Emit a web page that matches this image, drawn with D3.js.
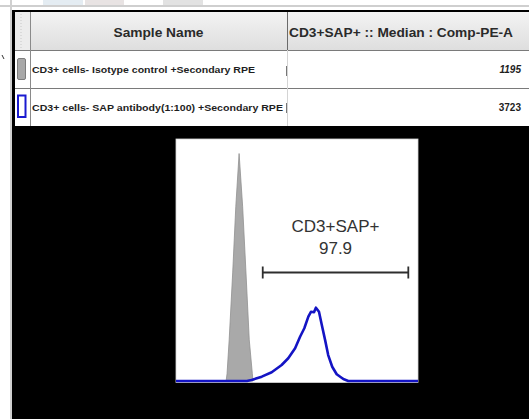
<!DOCTYPE html>
<html><head><meta charset="utf-8">
<script src="https://cdn.jsdelivr.net/npm/d3@7"></script>
<style>body{margin:0;background:#fff;overflow:hidden}svg{display:block}</style>
</head><body>
<script>
// ---- data ----
const columns = ["Sample Name", "CD3+SAP+ :: Median : Comp-PE-A"];
const samples = ["CD3+ cells- Isotype control +Secondary RPE", "CD3+ cells- SAP antibody(1:100) +Secondary RPE"];
const medians = [1195, 3723];
const gateName = "CD3+SAP+";
const gatePercent = 97.9;
const gateRange = [367, 983];           // channel units
const isotypeHist = [[212,0],[216,3],[225,17],[240,45],[253,72],[267,94],[282,72],[296,45],[310,17],[323,3],[326,0]];
const sapHist = [[0,0],[300,0],[320,0.4],[363,1.8],[405,3.6],[447,6.6],[475,9.4],[504,13.5],[525,18.3],[543,21.8],
  [560,26.6],[571,28.6],[584,28.4],[592,30.3],[605,28.6],[617,23.1],[631,16.9],[644,10.7],[661,5.9],[680,2.8],
  [708,0.8],[729,0],[1024,0]];

const W = 529, H = 419;
const svg = d3.select("body").append("svg").attr("width", W).attr("height", H);

// ---- window chrome ----
svg.append("rect").attr("x",43).attr("y",0).attr("width",40).attr("height",5).attr("fill","#e4ecf2");
svg.append("rect").attr("x",85).attr("y",0).attr("width",39).attr("height",5).attr("fill","#e8e3e3");
svg.append("rect").attr("x",163).attr("y",0).attr("width",40).attr("height",5).attr("fill","#e2e2e2");
svg.append("rect").attr("x",0).attr("y",5).attr("width",W).attr("height",2).attr("fill","#cfcfcf");
svg.append("rect").attr("x",10).attr("y",0).attr("width",2).attr("height",H).attr("fill","#d0d0d0");
svg.append("line").attr("x1",2).attr("y1",55).attr("x2",4).attr("y2",59).attr("stroke","#333").attr("stroke-width",1);

// black panel
svg.append("rect").attr("x",12).attr("y",10).attr("width",W-12).attr("height",H-10).attr("fill","#000");

// ---- table ----
const colX = [15, 30, 287, W];
const rowScale = d3.scaleBand().domain(["header", ...samples]).range([12, 126]);
const t = svg.append("g");
const defs = svg.append("defs");
const grad = defs.append("linearGradient").attr("id","hdr").attr("x1",0).attr("y1",0).attr("x2",0).attr("y2",1);
grad.append("stop").attr("offset","0%").attr("stop-color","#f3f3f3");
grad.append("stop").attr("offset","100%").attr("stop-color","#dedede");

t.append("rect").attr("x",colX[0]).attr("y",rowScale("header")).attr("width",W-colX[0]).attr("height",rowScale.bandwidth()).attr("fill","url(#hdr)");
t.append("rect").attr("x",colX[0]).attr("y",rowScale("header")).attr("width",colX[1]-colX[0]).attr("height",rowScale.bandwidth()).attr("fill","#ececec");
t.append("line").attr("x1",21).attr("x2",21).attr("y1",rowScale("header")+2).attr("y2",rowScale("header")+rowScale.bandwidth()-2)
  .attr("stroke","#c8c8c8").attr("stroke-dasharray","1,2");
samples.forEach(s => {
  t.append("rect").attr("x",colX[0]).attr("y",rowScale(s)).attr("width",W-colX[0]).attr("height",rowScale.bandwidth()).attr("fill","#fff");
});
// grid lines
[rowScale(samples[0]), rowScale(samples[1])].forEach(y => {
  t.append("line").attr("x1",colX[0]).attr("x2",W).attr("y1",y+0.5).attr("y2",y+0.5).attr("stroke","#7a7a7a");
});
t.append("line").attr("x1",colX[1]+0.5).attr("x2",colX[1]+0.5).attr("y1",12).attr("y2",126).attr("stroke","#8a8a8a");
t.append("line").attr("x1",colX[2]+0.5).attr("x2",colX[2]+0.5).attr("y1",12).attr("y2",50).attr("stroke","#6a6a6a");
t.append("line").attr("x1",colX[2]+0.5).attr("x2",colX[2]+0.5).attr("y1",50).attr("y2",126).attr("stroke","#d4d4d4");
t.append("line").attr("x1",colX[2]-0.5).attr("x2",colX[2]-0.5).attr("y1",66).attr("y2",76).attr("stroke","#777");
t.append("line").attr("x1",colX[2]-0.5).attr("x2",colX[2]-0.5).attr("y1",103).attr("y2",113).attr("stroke","#777");

// header text
const hy = rowScale("header") + 24.5;
t.append("text").attr("x",(colX[1]+colX[2])/2).attr("y",hy).attr("text-anchor","middle")
  .attr("font-family","Liberation Sans, Arial, sans-serif").attr("font-weight","bold").attr("font-size",13)
  .attr("fill","#2a2a2a").attr("textLength",90).attr("lengthAdjust","spacingAndGlyphs").text(columns[0]);
t.append("text").attr("x",colX[2]+2).attr("y",hy)
  .attr("font-family","Liberation Sans, Arial, sans-serif").attr("font-weight","bold").attr("font-size",13)
  .attr("fill","#2a2a2a").attr("textLength",224).attr("lengthAdjust","spacingAndGlyphs").text(columns[1]);

// rows
const nameWidths = [223, 251];
samples.forEach((s, i) => {
  const y0 = rowScale(s), bw = rowScale.bandwidth();
  const ty = y0 + bw/2 + 3.5;
  if (i === 0) {
    t.append("rect").attr("x",17.5).attr("y",y0+8.5).attr("width",8).attr("height",21).attr("rx",1.5)
      .attr("fill","#a8a8a8").attr("stroke","#7d7d7d");
  } else {
    t.append("rect").attr("x",18).attr("y",y0+7.5).attr("width",7.5).attr("height",21.5)
      .attr("fill","#fff").attr("stroke","#1a1ad0").attr("stroke-width",2);
  }
  t.append("text").attr("x",32).attr("y",ty)
    .attr("font-family","Liberation Sans, Arial, sans-serif").attr("font-weight","bold").attr("font-size",9.5)
    .attr("fill","#1e1e1e").attr("textLength",nameWidths[i]).attr("lengthAdjust","spacingAndGlyphs").text(s);
  t.append("text").attr("x",521).attr("y",ty).attr("text-anchor","end")
    .attr("font-family","Liberation Sans, Arial, sans-serif").attr("font-weight","bold").attr("font-size",10)
    .attr("font-style", i === 0 ? "italic" : "normal")
    .attr("fill","#1e1e1e").text(medians[i]);
});

// ---- histogram plot ----
const x = d3.scaleLinear().domain([0, 1024]).range([176, 418]);
const y = d3.scaleLinear().domain([0, 100]).range([381, 139]);
const p = svg.append("g");
p.append("rect").attr("x",x(0)).attr("y",y(100)).attr("width",x(1024)-x(0)).attr("height",y(0)-y(100)+1.5)
  .attr("fill","#fff").attr("stroke","#d8d8d8").attr("stroke-width",0.8);

const area = d3.area().x(d => x(d[0])).y0(y(0)).y1(d => y(d[1])).curve(d3.curveLinear);
p.append("path").datum(isotypeHist).attr("d", area).attr("fill","#a9a9a9").attr("stroke","#909090").attr("stroke-width",0.8);

const line = d3.line().x(d => x(d[0])).y(d => y(d[1])).curve(d3.curveLinear);
p.append("path").datum(sapHist).attr("d", line).attr("fill","none").attr("stroke","#1414c4")
  .attr("stroke-width",2.6).attr("stroke-linejoin","round");

// gate
const gy = 272.5;
const g = p.append("g").attr("stroke","#2e2e2e").attr("stroke-width",1.8);
g.append("line").attr("x1",x(gateRange[0])).attr("x2",x(gateRange[1])).attr("y1",gy).attr("y2",gy);
gateRange.forEach(v => g.append("line").attr("x1",x(v)).attr("x2",x(v)).attr("y1",gy-6).attr("y2",gy+6));
const gx = (x(gateRange[0]) + x(gateRange[1])) / 2;
p.append("text").attr("x",gx).attr("y",231.5).attr("text-anchor","middle")
  .attr("font-family","Liberation Sans, Arial, sans-serif").attr("font-size",17).attr("fill","#333").text(gateName);
p.append("text").attr("x",gx).attr("y",254).attr("text-anchor","middle")
  .attr("font-family","Liberation Sans, Arial, sans-serif").attr("font-size",17).attr("fill","#333").text(gatePercent.toFixed(1));
</script>
</body></html>
